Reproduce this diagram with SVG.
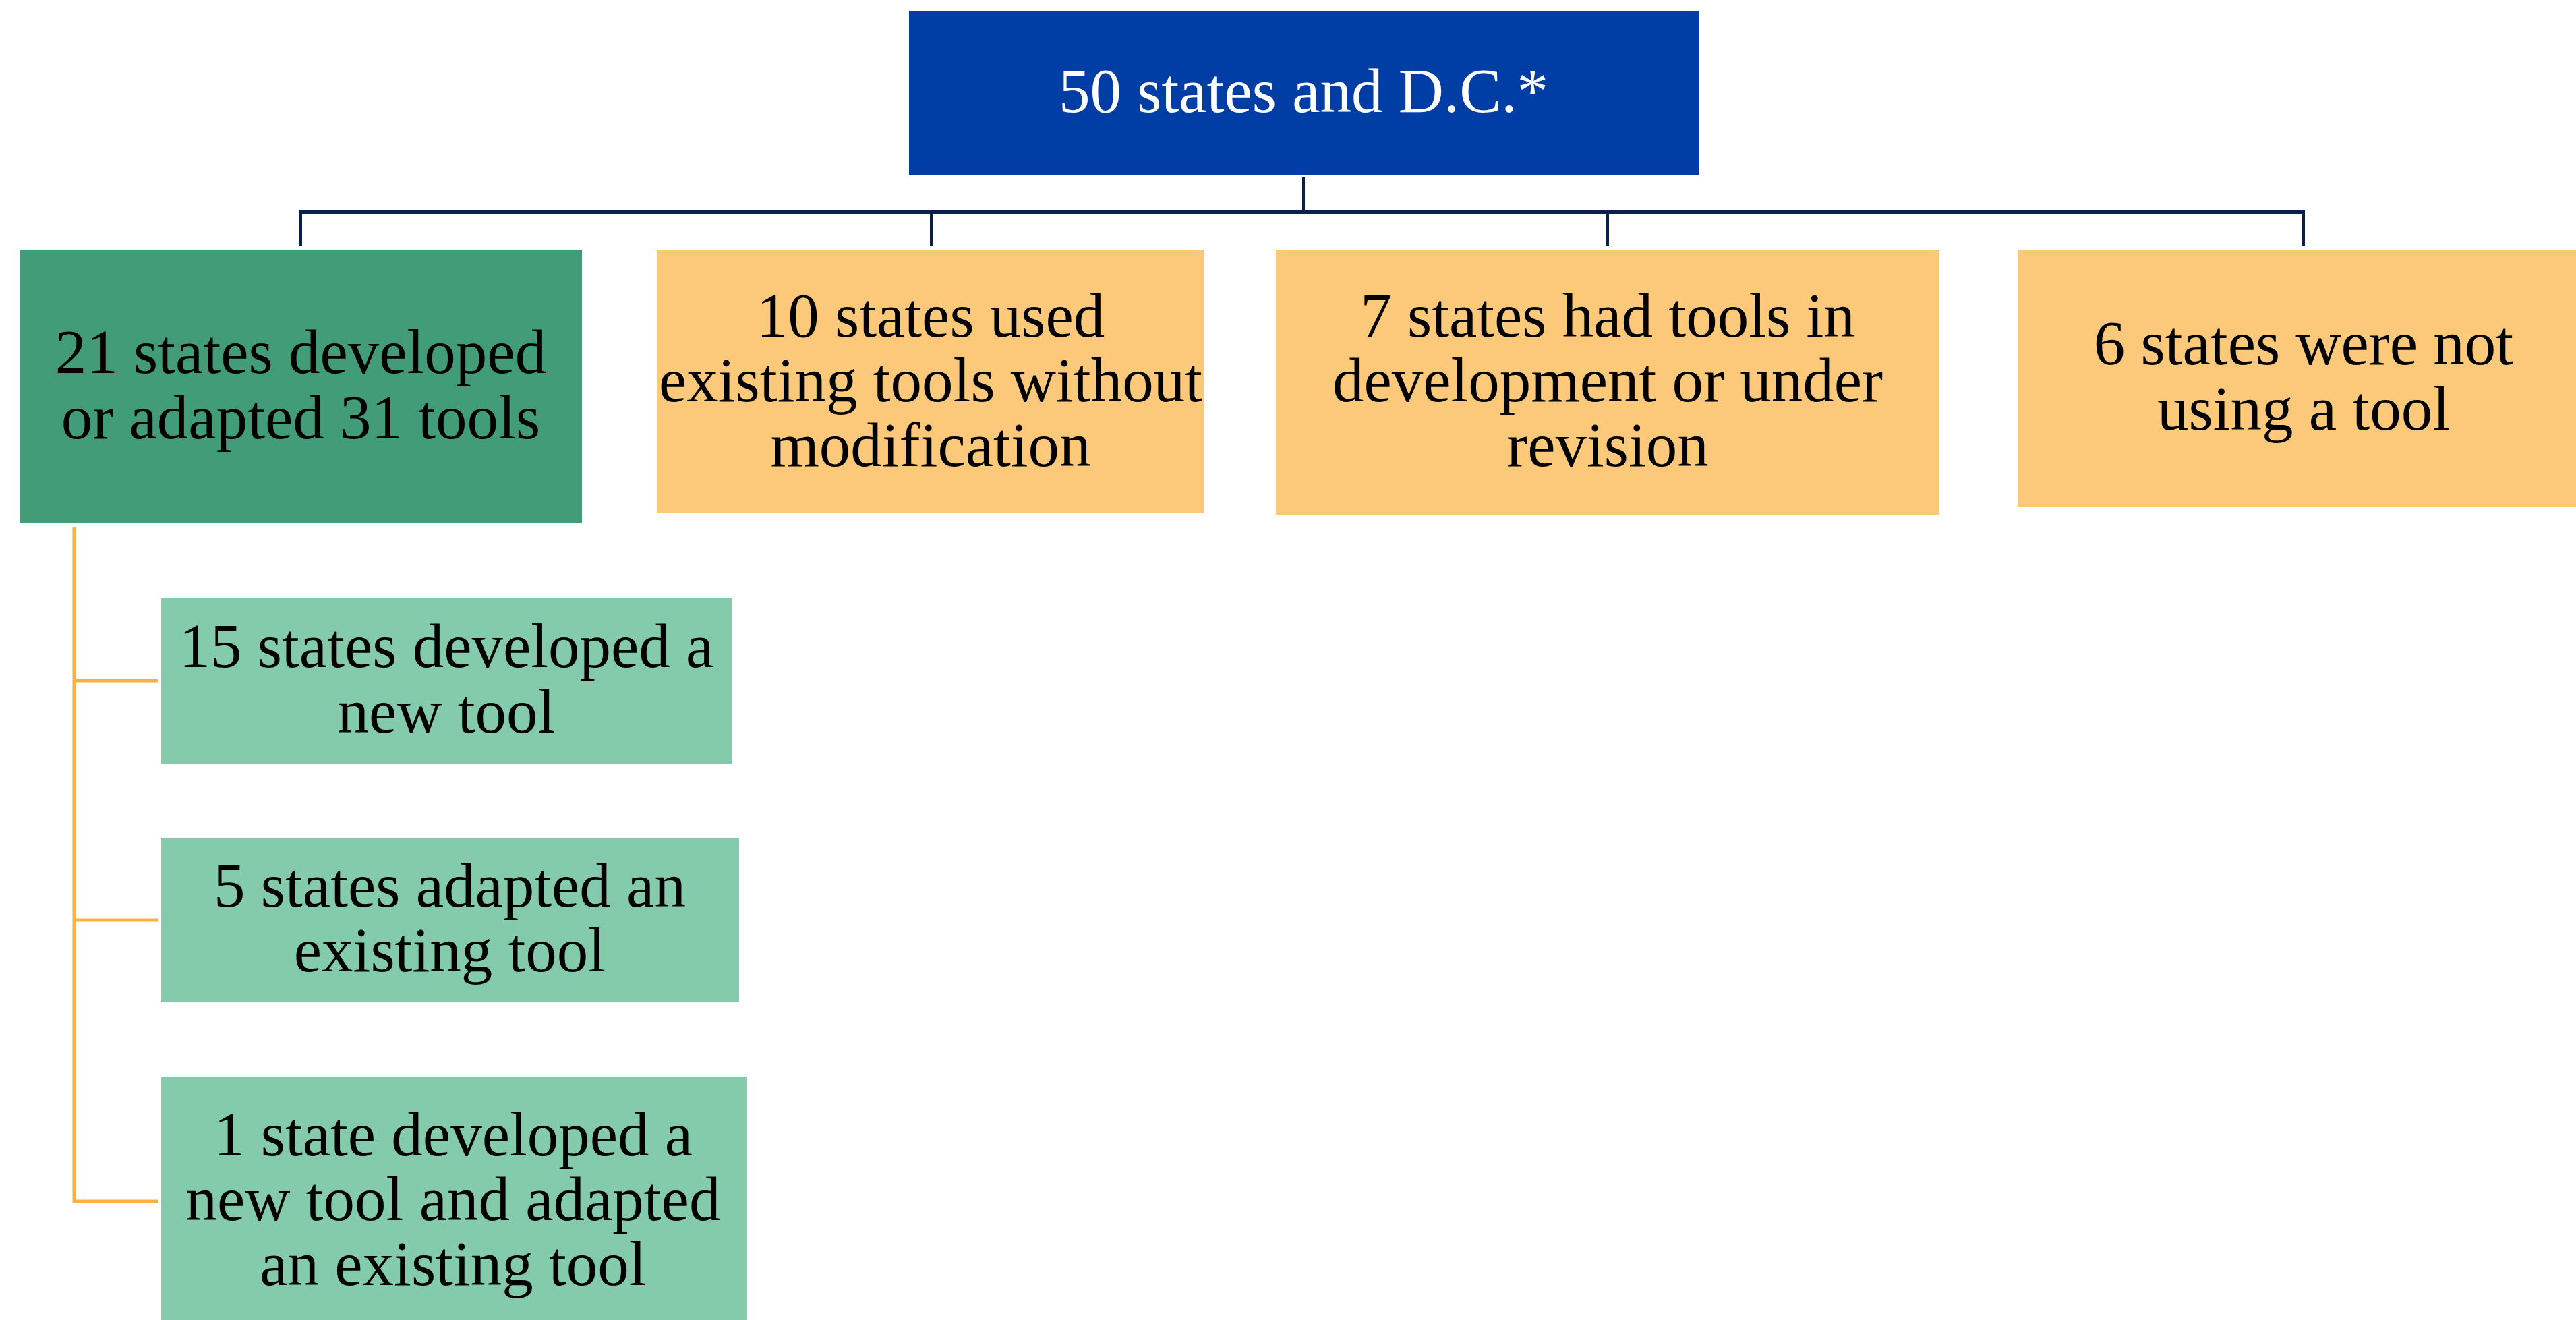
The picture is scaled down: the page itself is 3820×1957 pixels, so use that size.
<svg xmlns="http://www.w3.org/2000/svg" width="3820" height="1957" viewBox="0 0 3820 1957">
<style>
text{font-family:"Liberation Serif","Times New Roman",serif;font-size:93px;text-anchor:middle;fill:#000}
.top text{fill:#fff}
.nav{stroke:#0B1F4E;fill:none}
.org{stroke:#FBB040;fill:none;stroke-width:5}
</style>
<rect width="3820" height="1957" fill="#fff"/>
<g id="connectors">
<line class="nav" x1="1933" y1="262" x2="1933" y2="315" stroke-width="4"/>
<line class="nav" x1="444" y1="315" x2="3418" y2="315" stroke-width="6"/>
<line class="nav" x1="446" y1="315" x2="446" y2="365" stroke-width="4"/>
<line class="nav" x1="1381" y1="315" x2="1381" y2="365" stroke-width="4"/>
<line class="nav" x1="2384" y1="315" x2="2384" y2="365" stroke-width="4"/>
<line class="nav" x1="3416" y1="315" x2="3416" y2="365" stroke-width="4"/>
<line class="org" x1="110" y1="782" x2="110" y2="1783"/>
<line class="org" x1="108" y1="1009" x2="234" y2="1009"/>
<line class="org" x1="108" y1="1364" x2="234" y2="1364"/>
<line class="org" x1="108" y1="1781" x2="234" y2="1781"/>
</g>
<g id="n-top" class="top">
<rect x="1348" y="16" width="1172" height="243" fill="#003DA5"/>
<text x="1933" y="166">50 states and D.C.*</text>
</g>
<g id="n-21">
<rect x="29" y="370" width="834" height="406" fill="#429C77"/>
<text x="446" y="553">21 states developed</text>
<text x="446" y="650">or adapted 31 tools</text>
</g>
<g id="n-10">
<rect x="974" y="370" width="812" height="390" fill="#FCC97B"/>
<text x="1380" y="499">10 states used</text>
<text x="1380" y="595">existing tools without</text>
<text x="1380" y="691">modification</text>
</g>
<g id="n-7">
<rect x="1892" y="370" width="984" height="393" fill="#FCC97B"/>
<text x="2384" y="499">7 states had tools in</text>
<text x="2384" y="595">development or under</text>
<text x="2384" y="691">revision</text>
</g>
<g id="n-6">
<rect x="2992" y="370" width="830" height="381" fill="#FCC97B"/>
<text x="3416" y="540">6 states were not</text>
<text x="3416" y="637">using a tool</text>
</g>
<g id="n-15">
<rect x="239" y="887" width="847" height="245" fill="#83CBAA"/>
<text x="662" y="989">15 states developed a</text>
<text x="662" y="1086">new tool</text>
</g>
<g id="n-5">
<rect x="239" y="1242" width="857" height="244" fill="#83CBAA"/>
<text x="667" y="1344">5 states adapted an</text>
<text x="667" y="1440">existing tool</text>
</g>
<g id="n-1">
<rect x="239" y="1597" width="868" height="362" fill="#83CBAA"/>
<text x="672" y="1713">1 state developed a</text>
<text x="672" y="1809">new tool and adapted</text>
<text x="672" y="1905">an existing tool</text>
</g>
</svg>
